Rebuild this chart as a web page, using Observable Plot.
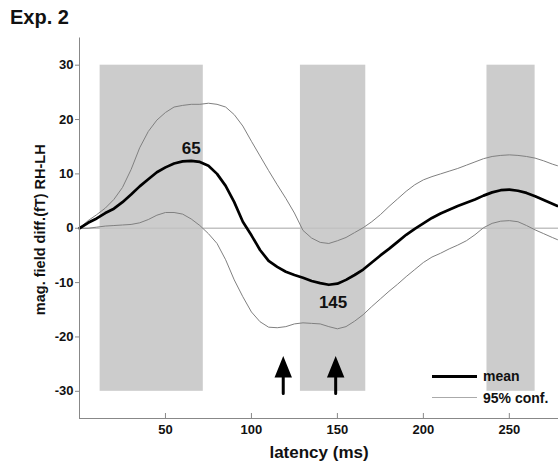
<!DOCTYPE html>
<html>
<head>
<meta charset="utf-8">
<script src="https://cdn.jsdelivr.net/npm/d3@7"></script>
<script src="https://cdn.jsdelivr.net/npm/@observablehq/plot@0.6"></script>
<style>
  body { margin: 0; background: #fff; }
  #wrap { position: relative; width: 558px; height: 466px; font-family: "Liberation Sans", Arial, sans-serif; font-weight: bold; color: #111; }
  #title { position: absolute; left: 10px; top: 6px; font-size: 20px; }
  .leg { position: absolute; font-size: 14px; line-height: 16px; }
  .legline { position: absolute; }
</style>
</head>
<body>
<div id="wrap">
  <div id="chart"></div>
  <div id="title">Exp. 2</div>
  <div class="legline" style="left:432px;top:375px;width:45px;height:3px;background:#000"></div>
  <div class="leg" style="left:483px;top:368px;">mean</div>
  <div class="legline" style="left:432px;top:397px;width:45px;height:1px;background:#aaa"></div>
  <div class="leg" style="left:483px;top:390px;">95% conf.</div>
</div>
<script>
// latency (ms)
const latency = [0,5,10,15,20,25,30,35,40,45,50,55,60,65,70,75,80,85,90,95,100,105,110,115,120,125,130,135,140,145,150,155,160,165,170,175,180,185,190,195,200,205,210,215,220,225,230,235,240,245,250,255,260,265,270,275,278];
// mean magnetic field difference (fT)
const meanDiff = [0,1.0,1.8,2.8,3.6,4.8,6.2,7.7,9.0,10.3,11.2,11.9,12.3,12.4,12.2,11.5,10.0,7.8,4.8,1.2,-1.3,-4.0,-6.0,-7.1,-8.0,-8.6,-9.1,-9.7,-10.1,-10.4,-10.2,-9.5,-8.6,-7.6,-6.3,-5.0,-3.8,-2.5,-1.2,-0.1,0.9,1.9,2.7,3.4,4.1,4.7,5.3,6.0,6.6,7.0,7.1,6.9,6.5,5.9,5.2,4.5,4.1];
// upper 95% confidence bound
const upperConf = [0,1.4,2.5,3.7,5.3,7.5,10.8,14.8,17.8,19.9,21.3,22.3,22.6,22.8,22.8,23.0,22.8,22.3,20.9,18.8,16.0,13.3,10.6,8.0,5.5,2.8,-0.4,-1.8,-2.6,-2.8,-2.3,-1.7,-0.8,0.1,1.2,2.5,4.0,5.4,6.8,8.0,8.9,9.5,10.0,10.5,11.0,11.6,12.2,12.8,13.2,13.4,13.5,13.4,13.2,12.9,12.4,11.8,11.5];
// lower 95% confidence bound
const lowerConf = [0,0.0,0.2,0.4,0.5,0.6,0.7,1.0,1.6,2.4,2.9,2.9,2.6,1.7,0.5,-1.0,-2.8,-5.8,-9.5,-12.6,-15.4,-17.2,-18.2,-18.3,-18.1,-17.6,-17.4,-17.5,-17.6,-18.1,-18.5,-18.1,-17.1,-15.9,-14.4,-13.0,-11.6,-10.3,-8.9,-7.6,-6.3,-5.3,-4.6,-3.8,-3.1,-2.3,-1.2,0.1,0.9,1.3,1.4,1.2,0.5,-0.3,-1.0,-1.7,-2.1];

// shaded analysis windows (ms)
const bandStart = [12, 128.5, 237];
const bandEnd = [72, 166.5, 265];
const bandLow = -30, bandHigh = 30;

// peak annotations
const peakLabels = ["65", "145"];
const peakX = [65, 147.5];
const peakY = [14.7, -13.6];

// arrows
const arrowX = [118.5, 149];
const arrowBase = -30.4;

const xTicks = [50, 100, 150, 200, 250];
const yTicks = [-30, -20, -10, 0, 10, 20, 30];
const xDomain = [0, 278.6];
const yDomain = [-35, 35];
const xLabel = "latency (ms)";
const yLabel = "mag. field diff.(fT) RH-LH";

const rows = latency.map((t, i) => ({t, mean: meanDiff[i], upper: upperConf[i], lower: lowerConf[i]}));
const bands = bandStart.map((s, i) => ({x1: s, x2: bandEnd[i], y1: bandLow, y2: bandHigh}));
const peaks = peakLabels.map((l, i) => ({label: l, x: peakX[i], y: peakY[i]}));

const arrowShape = {
  draw(context, l) {
    const h = 16, w = 6.5;
    context.moveTo(0, 0);
    context.lineTo(0, -l + h);
    context.moveTo(-w, -l + h + 1.5);
    context.lineTo(0, -l + 1.5);
    context.lineTo(w, -l + h + 1.5);
    context.closePath();
  }
};

const chart = Plot.plot({
  width: 558,
  height: 466,
  marginLeft: 79,
  marginRight: 0,
  marginTop: 37.5,
  marginBottom: 48,
  style: {fontFamily: "'Liberation Sans', Arial, sans-serif", fontWeight: "bold", color: "#111", background: "#fff"},
  x: {domain: xDomain, label: null},
  y: {domain: yDomain, label: null},
  marks: [
    Plot.rect(bands, {x1: "x1", x2: "x2", y1: "y1", y2: "y2", fill: "#cccccc"}),
    Plot.ruleY([0], {stroke: "#c2c2c2", strokeWidth: 1.5}),
    Plot.line(rows, {x: "t", y: "upper", stroke: "#808080", strokeWidth: 1}),
    Plot.line(rows, {x: "t", y: "lower", stroke: "#808080", strokeWidth: 1}),
    Plot.line(rows, {x: "t", y: "mean", stroke: "#000", strokeWidth: 2.7}),
    Plot.text(peaks, {x: "x", y: "y", text: "label", fontSize: 17, fontWeight: "bold", fill: "#111"}),
    Plot.vector(arrowX, {x: d => d, y: arrowBase, anchor: "start", length: 35, shape: arrowShape, stroke: "#000", fill: "#000", strokeWidth: 3, strokeLinejoin: "miter"}),
    Plot.ruleX([xDomain[0]], {stroke: "#888"}),
    Plot.ruleY([yDomain[0]], {stroke: "#888"}),
    Plot.axisY({ticks: yTicks, tickFormat: d => String(d), tickSize: 4, tickPadding: 2, fontSize: 13, fontWeight: "bold", stroke: "#888", fill: "#111", label: null}),
    Plot.axisX({ticks: xTicks, tickFormat: d => String(d), tickSize: 0, tickPadding: 6, fontSize: 13, fontWeight: "bold", fill: "#111", label: null}),
    Plot.tickX(xTicks, {x: d => d, insetTop: 375.5, stroke: "#888"}),
    Plot.text([xLabel], {frameAnchor: "bottom", dy: 34, lineAnchor: "middle", textAnchor: "middle", fontSize: 17, fontWeight: "bold", fill: "#111"}),
    Plot.text([yLabel], {frameAnchor: "left", dx: -39, dy: 1.5, rotate: -90, textAnchor: "middle", lineAnchor: "middle", fontSize: 14.5, fontWeight: "bold", fill: "#111"})
  ]
});
document.getElementById("chart").appendChild(chart);
</script>
</body>
</html>
